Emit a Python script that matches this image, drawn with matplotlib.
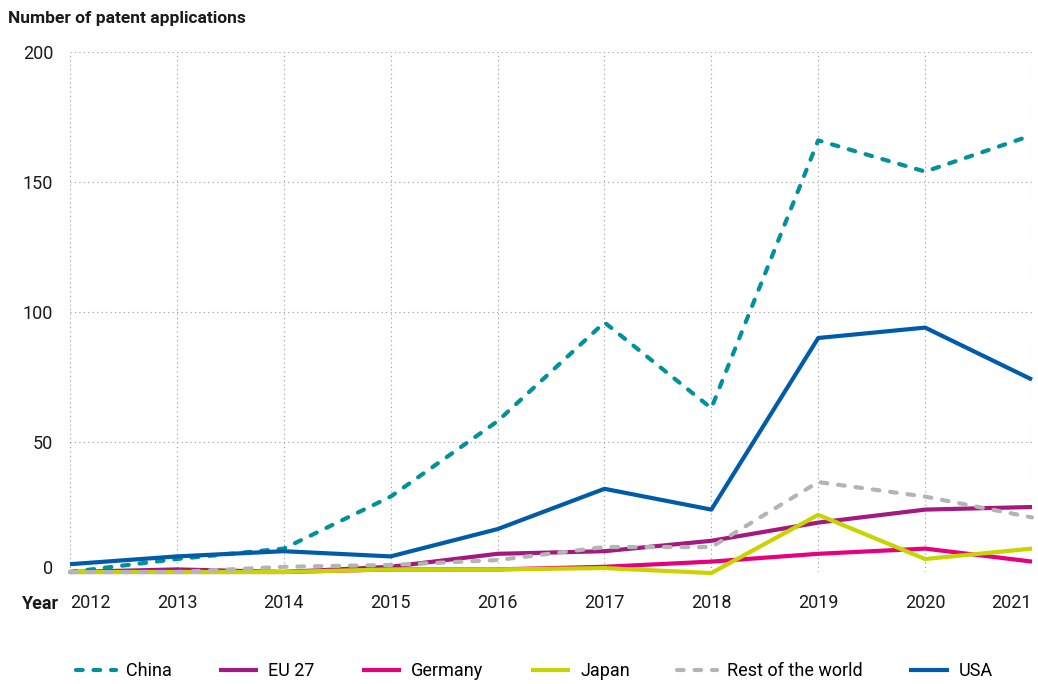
import matplotlib.pyplot as plt
import matplotlib.transforms as mtransforms

plt.rcParams['font.family'] = ['Roboto', 'DejaVu Sans']

years = [2012, 2013, 2014, 2015, 2016, 2017, 2018, 2019, 2020, 2021]
china = [0, 5, 9, 29, 58, 96, 63, 166, 154, 168]
eu27 = [0, 1, 0, 2, 7, 8, 12, 19, 24, 25]
germany = [0, 0, 0, 1, 1, 2, 4, 7, 9, 4]
japan = [0, 0, 0, 1, 1, 1.5, -0.4, 22, 5, 9]
rest = [0, 0, 2, 2.7, 4.6, 9.6, 9.6, 34.6, 29, 21]
usa = [3, 6, 8, 6, 16.5, 32, 24, 90, 94, 74]

series = [
    ('China', china, '#00919b', True),
    ('EU 27', eu27, '#a3197f', False),
    ('Germany', germany, '#e6007e', False),
    ('Japan', japan, '#c8d400', False),
    ('Rest of the world', rest, '#b4b4b4', True),
    ('USA', usa, '#005ca9', False),
]

fig = plt.figure(figsize=(10.38, 6.84), dpi=100)
ax = fig.add_axes([70/1038, 1-572/684, (1032-70)/1038, (572-52)/684])

lines = []
for name, vals, col, dashed in series:
    if dashed:
        ln, = ax.plot(years, vals, color=col, lw=3, label=name, clip_on=False,
                      dashes=(1.6, 2.6), dash_capstyle='round')
    else:
        ln, = ax.plot(years, vals, color=col, lw=3, label=name, clip_on=False,
                      solid_capstyle='butt')
    lines.append(ln)

ax.set_xlim(2012, 2021)
ax.set_ylim(0, 200)
ax.set_xticks(years)
ax.set_yticks([0, 50, 100, 150, 200])
ax.grid(True, linestyle=(0, (1, 3)), color='#999999', lw=0.8)
ax.set_axisbelow(True)
for s in ax.spines.values():
    s.set_visible(False)
ax.tick_params(length=0, labelsize=13, colors='#1a1a1a')
ax.tick_params(axis='x', pad=16)
ax.tick_params(axis='y', pad=12)

xl = ax.get_xticklabels()
xl[0].set_ha('left')
xl[-1].set_ha('right')
yl = ax.get_yticklabels()
yl[0].set_transform(yl[0].get_transform() +
                    mtransforms.ScaledTranslation(0, 5/100, fig.dpi_scale_trans))

fig.text(22/1038, 1-604/684, 'Year', fontsize=13, fontweight='bold',
         va='center', ha='left', color='#1a1a1a')
fig.text(8/1038, 1-18/684, 'Number of patent applications', fontsize=12.5,
         fontweight='bold', va='center', ha='left', color='#1a1a1a')

fig.legend(handles=lines, loc='center left', bbox_to_anchor=(60/1038, 1-671/684),
           ncol=6, frameon=False, fontsize=13, handlelength=2.2,
           handletextpad=0.55, columnspacing=2.6)

fig.savefig('out.png', dpi=100)
